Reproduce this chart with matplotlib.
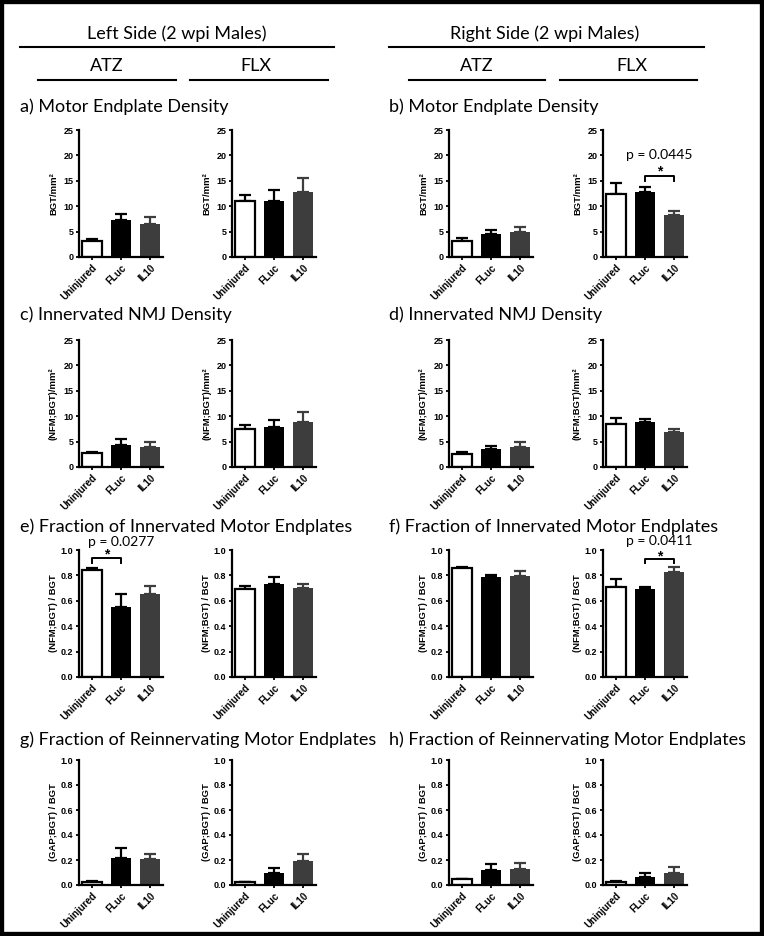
import matplotlib
matplotlib.use("Agg")
import matplotlib.pyplot as plt
from matplotlib.patches import Rectangle
from matplotlib.lines import Line2D

# ---------------- data ----------------
groups = ["Uninjured", "FLuc", "IL10"]

motor_left_atz = [3.2, 7.2, 6.4]
motor_left_atz_err = [0.3, 1.2, 1.4]
motor_left_flx = [11.0, 11.0, 12.8]
motor_left_flx_err = [1.2, 2.1, 2.8]
motor_right_atz = [3.1, 4.5, 4.9]
motor_right_atz_err = [0.6, 0.8, 1.1]
motor_right_flx = [12.5, 12.8, 8.3]
motor_right_flx_err = [2.0, 0.9, 0.8]

innerv_left_atz = [2.7, 4.3, 3.9]
innerv_left_atz_err = [0.2, 1.3, 1.0]
innerv_left_flx = [7.4, 7.8, 8.8]
innerv_left_flx_err = [0.9, 1.5, 2.0]
innerv_right_atz = [2.5, 3.5, 3.9]
innerv_right_atz_err = [0.5, 0.6, 1.0]
innerv_right_flx = [8.5, 8.8, 6.85]
innerv_right_flx_err = [1.1, 0.6, 0.7]

frac_left_atz = [0.845, 0.555, 0.655]
frac_left_atz_err = [0.017, 0.095, 0.06]
frac_left_flx = [0.69, 0.735, 0.70]
frac_left_flx_err = [0.03, 0.055, 0.03]
frac_right_atz = [0.855, 0.785, 0.795]
frac_right_atz_err = [0.015, 0.02, 0.04]
frac_right_flx = [0.71, 0.69, 0.83]
frac_right_flx_err = [0.06, 0.015, 0.035]

reinn_left_atz = [0.027, 0.213, 0.208]
reinn_left_atz_err = [0.008, 0.087, 0.037]
reinn_left_flx = [0.021, 0.093, 0.192]
reinn_left_flx_err = [0.006, 0.046, 0.056]
reinn_right_atz = [0.045, 0.12, 0.125]
reinn_right_atz_err = [0.005, 0.048, 0.053]
reinn_right_flx = [0.027, 0.067, 0.099]
reinn_right_flx_err = [0.005, 0.026, 0.048]

density_ticks = [0, 5, 10, 15, 20, 25]
density_tick_labels = ["0", "5", "10", "15", "20", "25"]
fraction_ticks = [0.0, 0.2, 0.4, 0.6, 0.8, 1.0]
fraction_tick_labels = ["0.0", "0.2", "0.4", "0.6", "0.8", "1.0"]

ylabels = ["BGT/mm²", "(NFM;BGT)/mm²", "(NFM;BGT) / BGT", "(GAP;BGT) / BGT"]
titles_left = ["a) Motor Endplate Density", "c) Innervated NMJ Density",
               "e) Fraction of Innervated Motor Endplates",
               "g) Fraction of Reinnervating Motor Endplates"]
titles_right = ["b) Motor Endplate Density", "d) Innervated NMJ Density",
                "f) Fraction of Innervated Motor Endplates",
                "h) Fraction of Reinnervating Motor Endplates"]

rows = [
    [(motor_left_atz, motor_left_atz_err), (motor_left_flx, motor_left_flx_err),
     (motor_right_atz, motor_right_atz_err), (motor_right_flx, motor_right_flx_err)],
    [(innerv_left_atz, innerv_left_atz_err), (innerv_left_flx, innerv_left_flx_err),
     (innerv_right_atz, innerv_right_atz_err), (innerv_right_flx, innerv_right_flx_err)],
    [(frac_left_atz, frac_left_atz_err), (frac_left_flx, frac_left_flx_err),
     (frac_right_atz, frac_right_atz_err), (frac_right_flx, frac_right_flx_err)],
    [(reinn_left_atz, reinn_left_atz_err), (reinn_left_flx, reinn_left_flx_err),
     (reinn_right_atz, reinn_right_atz_err), (reinn_right_flx, reinn_right_flx_err)],
]

# significance annotations: (row, col, group_i, group_j, bracket_y, tick_y, star_y, text_y, text_x, label)
sig = [
    (0, 3, 1, 2, 15.9, 15.0, 16.8, 20.0, 1.5, "p = 0.0445"),
    (2, 0, 0, 1, 0.94, 0.90, 0.962, 1.066, 1.0, "p = 0.0277"),
    (2, 3, 1, 2, 0.93, 0.895, 0.952, 1.072, 1.5, "p = 0.0411"),
]

# ---------------- layout ----------------
W, H = 764, 936
fig = plt.figure(figsize=(W / 100, H / 100), dpi=100)
fig.patch.set_facecolor("white")

HEAD_FONT = "Lato"
TICK_FONT = "Liberation Sans"

def fx(x):
    return x / W

def fy(y):
    return 1 - y / H

# border
fig.patches.append(Rectangle((0, 0), 1, 1, transform=fig.transFigure, fill=False,
                             edgecolor="black", linewidth=6))

# headers
def header(text, xc, yc, x0, x1, yl):
    fig.text(fx(xc), fy(yc), text, ha="center", va="center", fontsize=13,
             family=HEAD_FONT, color="black")
    fig.add_artist(Line2D([fx(x0), fx(x1)], [fy(yl), fy(yl)], color="black",
                          linewidth=1.5, transform=fig.transFigure))

header("Left Side (2 wpi Males)", 177, 34, 20, 334, 47)
header("Right Side (2 wpi Males)", 545, 34, 389, 704, 47)
header("ATZ", 107, 66, 38, 176, 80)
header("FLX", 256, 66, 190, 328, 80)
header("ATZ", 477, 66, 409, 545, 80)
header("FLX", 632, 66, 560, 697, 80)

title_y = [107, 315, 527, 740]
for r in range(4):
    fig.text(fx(20), fy(title_y[r]), titles_left[r], ha="left", va="center",
             fontsize=13, family=HEAD_FONT)
    fig.text(fx(389), fy(title_y[r]), titles_right[r], ha="left", va="center",
             fontsize=13, family=HEAD_FONT)

row_top = [130, 340, 550, 760]
row_bot = [257, 467, 677, 885]
col_left = [79, 232, 449, 603]
ax_w = 84

colors = ["white", "black", "#3d3d3d"]
edgecolors = ["black", "black", "#3d3d3d"]
err_colors = ["black", "black", "#3d3d3d"]

axes = {}
for r in range(4):
    for c in range(4):
        left = fx(col_left[c])
        bottom = fy(row_bot[r])
        height = (row_bot[r] - row_top[r]) / H
        ax = fig.add_axes([left, bottom, ax_w / W, height])
        axes[(r, c)] = ax
        means, errs = rows[r][c]
        xs = list(range(len(groups)))
        for i in xs:
            ax.bar(i, means[i], width=0.67, color=colors[i], edgecolor=edgecolors[i],
                   linewidth=1.6 if i == 0 else 0.0, zorder=2)
            ax.errorbar(i, means[i], yerr=[[0], [errs[i]]], fmt="none",
                        ecolor=err_colors[i], elinewidth=1.6, capsize=4.2,
                        capthick=1.6, zorder=1)
        ax.set_xlim(-0.45, 2.45)
        if r < 2:
            ax.set_ylim(0, 25)
            ax.set_yticks(density_ticks)
            ax.set_yticklabels(density_tick_labels)
        else:
            ax.set_ylim(0, 1.0)
            ax.set_yticks(fraction_ticks)
            ax.set_yticklabels(fraction_tick_labels)
        ax.set_xticks(xs)
        ax.set_xticklabels(groups, rotation=45, ha="right", rotation_mode="anchor")
        for s in ["top", "right"]:
            ax.spines[s].set_visible(False)
        for s in ["left", "bottom"]:
            ax.spines[s].set_linewidth(1.6)
        ax.tick_params(axis="both", direction="out", length=2.5, width=1.3, pad=1.5,
                       labelsize=6.5)
        for lab in ax.get_xticklabels() + ax.get_yticklabels():
            lab.set_fontweight("bold")
            lab.set_family(TICK_FONT)
        for lab in ax.get_xticklabels():
            lab.set_fontsize(7)
        ax.set_ylabel(ylabels[r], fontsize=6.8, fontweight="bold", family=TICK_FONT)
        ax.yaxis.set_label_coords(-0.25, 0.5)
        ax.patch.set_alpha(0)

for (r, c, gi, gj, by, ty, sy, py, px, label) in sig:
    ax = axes[(r, c)]
    ax.plot([gi, gi, gj, gj], [ty, by, by, ty], color="black", linewidth=1.4,
            clip_on=False, zorder=3)
    ax.text((gi + gj) / 2, sy, "*", ha="center", va="center", fontsize=10,
            fontweight="bold", family=TICK_FONT, clip_on=False)
    ax.text(px, py, label, ha="center", va="center", fontsize=10,
            family=HEAD_FONT, clip_on=False)

fig.savefig("out.png", dpi=100, facecolor="white")
